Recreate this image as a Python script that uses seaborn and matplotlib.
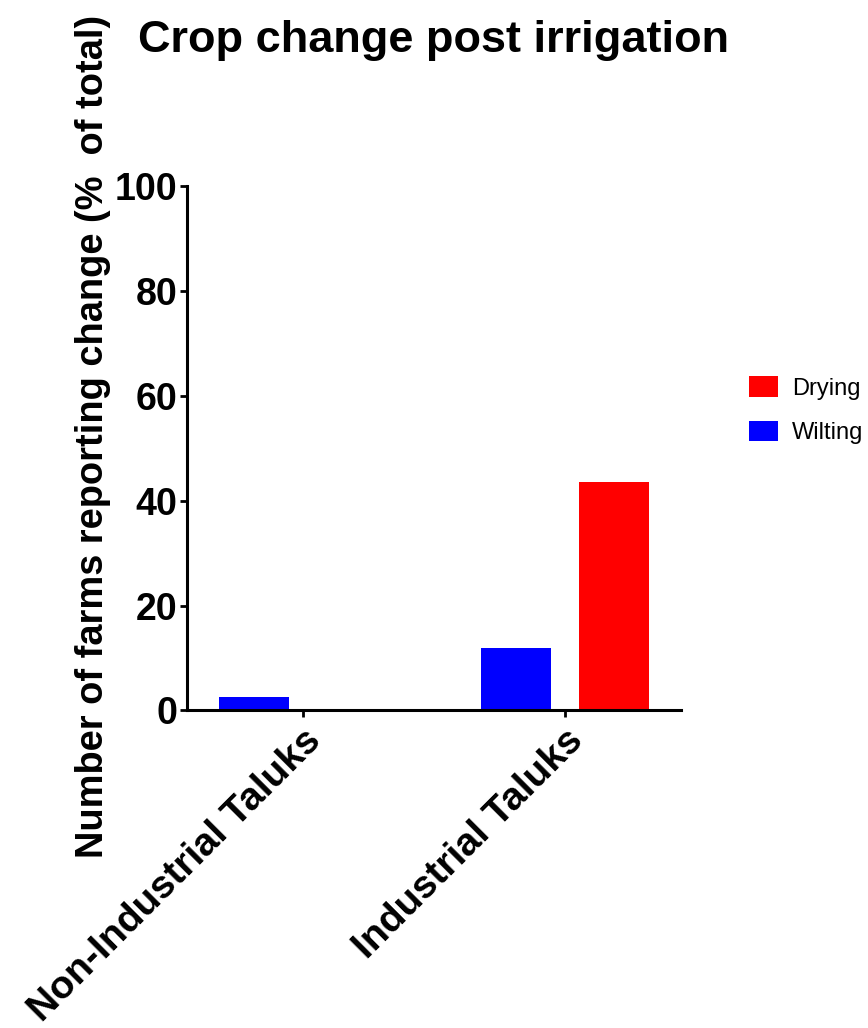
import matplotlib
matplotlib.use("Agg")
import matplotlib.pyplot as plt
import matplotlib.patches as mpatches
import seaborn as sns
import pandas as pd

# Survey results: share of farms reporting each crop change
taluks = ["Non-Industrial Taluks", "Industrial Taluks"]
changes = ["Wilting", "Drying"]
wilting = [2.5, 11.9]
drying = [0.0, 43.6]
colors = {"Drying": "#FF0000", "Wilting": "#0000FF"}
legend_order = ["Drying", "Wilting"]

df = pd.DataFrame({
    "taluk": taluks * 2,
    "change": ["Wilting"] * len(taluks) + ["Drying"] * len(taluks),
    "pct": wilting + drying,
})

sns.set_theme(style="ticks")
plt.rcParams["font.family"] = ["Liberation Sans", "DejaVu Sans"]
plt.rcParams["text.color"] = "black"
plt.rcParams["axes.labelcolor"] = "black"
plt.rcParams["xtick.color"] = "black"
plt.rcParams["ytick.color"] = "black"

fig = plt.figure(figsize=(8.68, 10.28), dpi=100)
ax = fig.add_axes([0.2154, 0.3089, 0.5691, 0.5102])

sns.barplot(data=df, x="taluk", y="pct", hue="change", hue_order=changes,
            order=taluks, palette=colors, saturation=1, width=0.75, gap=0.29,
            linewidth=0, legend=False, ax=ax)

ax.set_xlim(-0.443, 1.443)
ax.set_ylim(0, 100)
ax.set_yticks(range(0, 101, 20))
ax.set_xlabel("")
ax.set_ylabel("Number of farms reporting change (%  of total)",
              fontsize=27.4, fontweight="bold")
ax.yaxis.set_label_coords(-0.153, 0.522)
sns.despine(ax=ax)
for side in ("left", "bottom"):
    ax.spines[side].set_linewidth(2.2)
    ax.spines[side].set_color("black")
ax.tick_params(axis="both", width=2, length=5, direction="out")
ax.tick_params(axis="y", labelsize=27, pad=2)
ax.tick_params(axis="x", labelsize=28.2, pad=4)
for lbl in ax.get_yticklabels():
    lbl.set_fontweight("bold")
ax.set_xticks(range(len(taluks)))
ax.set_xticklabels(taluks, rotation=45, ha="right", rotation_mode="anchor",
                   fontweight="bold")

handles = [mpatches.Patch(facecolor=colors[c], edgecolor="none", label=c)
           for c in legend_order]
fig.legend(handles=handles, loc="upper left", bbox_to_anchor=(0.8625, 0.634),
           frameon=False, fontsize=17, handlelength=1.25, handleheight=0.95,
           handletextpad=0.6, labelspacing=0.91, borderpad=0, borderaxespad=0)

fig.suptitle("Crop change post irrigation", x=0.5, y=0.981, va="top",
             fontsize=32.5, fontweight="bold")

fig.savefig("out.png", dpi=100, facecolor="white")
